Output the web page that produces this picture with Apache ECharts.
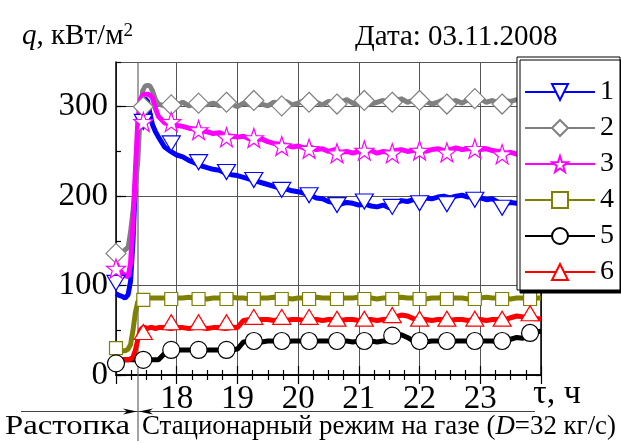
<!DOCTYPE html>
<html>
<head>
<meta charset="utf-8">
<script src="https://cdn.jsdelivr.net/npm/echarts@6/dist/echarts.min.js"></script>
<style>
  html, body { margin: 0; padding: 0; background: #fff; }
  #chart { width: 621px; height: 443px; }
</style>
</head>
<body>
<div id="chart"></div>
<script>
// время, ч
const tau = [17.0, 17.05, 17.1, 17.15, 17.2, 17.24, 17.28, 17.32, 17.36, 17.4, 17.44, 17.48, 17.52, 17.56, 17.6, 17.65,
  17.7, 17.8, 17.9, 18.0, 18.1, 18.2, 18.3, 18.4, 18.5, 18.6, 18.7, 18.8, 18.9, 19.0, 19.1, 19.2, 19.3, 19.4, 19.5, 19.6,
  19.7, 19.8, 19.9, 20.0, 20.1, 20.2, 20.3, 20.4, 20.5, 20.6, 20.7, 20.8, 20.9, 21.0, 21.1, 21.2, 21.3, 21.4, 21.5, 21.6,
  21.7, 21.8, 21.9, 22.0, 22.1, 22.2, 22.3, 22.4, 22.5, 22.6, 22.7, 22.8, 22.9, 23.0, 23.1, 23.2, 23.3, 23.4, 23.5, 23.6,
  23.7, 23.8, 23.9, 24.0];

// q, кВт/м2 для датчиков 1..6
const q1 = [91, 89, 88, 86, 90, 105, 150, 215, 262, 290, 305, 309, 306, 292, 280, 272,
  266, 255, 250, 246, 244, 240, 237, 234, 232, 230, 229, 226, 224, 223, 221, 219, 217, 215, 213, 211,
  209, 208, 206, 205, 203, 201, 198, 197, 194, 193, 191, 193, 192, 190, 191, 189, 188, 190, 187, 192,
  195, 194, 196, 197, 198, 197, 199, 200, 198, 200, 201, 199, 200, 198, 196, 197, 193, 191, 193, 192,
  194, 193, 194, 193];
const q2 = [132, 134, 137, 140, 143, 160, 184, 210, 240, 295, 318, 323, 324, 323, 318, 308,
  303, 301, 300, 302, 305, 301, 303, 306, 302, 304, 301, 305, 303, 300, 304, 302, 306, 303, 301, 305,
  303, 306, 302, 304, 307, 303, 305, 302, 306, 303, 305, 308, 304, 302, 306, 303, 305, 307, 303, 306,
  309, 305, 307, 304, 306, 303, 305, 308, 305, 307, 304, 308, 306, 309, 305, 307, 304, 307, 306, 308,
  305, 307, 305, 306];
const q3 = [125, 118, 114, 111, 110, 125, 170, 230, 285, 308, 313, 314, 314, 313, 310, 298,
  289, 282, 280, 279, 278, 276, 275, 273, 272, 270, 271, 268, 267, 266, 267, 264, 263, 264, 261, 259,
  258, 257, 255, 256, 254, 255, 252, 253, 250, 252, 249, 250, 248, 250, 249, 251, 248, 250, 249, 251,
  252, 250, 251, 252, 250, 252, 253, 251, 252, 254, 252, 253, 254, 252, 253, 251, 250, 248, 249, 247,
  248, 246, 247, 248];
const q4 = [28, 28, 27, 27, 29, 34, 50, 70, 82, 85, 86, 86, 86, 86, 86, 86,
  86, 86, 85, 86, 86, 87, 86, 86, 85, 86, 86, 86, 87, 86, 86, 85, 86, 86, 86, 87,
  86, 86, 85, 86, 86, 86, 87, 86, 86, 85, 86, 86, 86, 87, 86, 86, 85, 86, 86, 86,
  87, 86, 86, 86, 85, 86, 86, 87, 86, 86, 86, 85, 86, 86, 87, 86, 86, 86, 85, 86,
  86, 87, 86, 86];
const q5 = [17, 17, 17, 17, 17, 17, 17, 17, 17, 17, 17, 17, 17, 17, 17, 17,
  17, 24, 28, 28, 28, 28, 28, 28, 28, 28, 28, 28, 28, 29, 37, 38, 38, 37, 38, 38,
  38, 37, 38, 38, 38, 37, 38, 38, 38, 37, 38, 38, 37, 38, 38, 38, 37, 38, 38, 43,
  45, 42, 38, 38, 37, 38, 38, 38, 37, 38, 38, 38, 37, 38, 38, 38, 37, 38, 40, 42,
  41, 44, 48, 49];
const q6 = [17, 17, 17, 17, 17, 18, 20, 28, 40, 50, 53, 53, 52, 53, 53, 52,
  53, 53, 52, 53, 53, 52, 53, 53, 52, 53, 53, 52, 53, 53, 61, 62, 61, 62, 62, 61,
  62, 61, 62, 62, 61, 62, 62, 61, 62, 62, 61, 62, 62, 61, 62, 62, 61, 62, 62, 65,
  67, 66, 63, 62, 62, 61, 62, 62, 61, 62, 62, 61, 62, 62, 61, 62, 62, 62, 64, 66,
  65, 64, 63, 63];

// положение маркеров
const markTau = [17.0, 17.45, 17.91, 18.36, 18.82, 19.27, 19.73, 20.18, 20.64, 21.09, 21.55, 22.0, 22.45, 22.91, 23.36, 23.82];
const m1 = [103, 283, 259, 238, 227, 218, 207, 201, 190, 194, 188, 192, 191, 196, 187, 192];
const m2 = [136, 300, 302, 304, 305, 307, 301, 305, 303, 307, 305, 307, 303, 309, 303, 305];
const m3 = [119, 283, 283, 274, 266, 265, 256, 253, 248, 251, 248, 251, 249, 253, 247, 247];
const m4 = [30, 84, 85, 85, 85, 85, 85, 85, 85, 85, 85, 85, 85, 85, 85, 85];
const m5 = [13, 17, 28, 28, 28, 38, 38, 38, 38, 38, 44, 38, 38, 38, 38, 47];
const m6 = [null, 48, 59, 59, 59, 65, 65, 65, 63, 63, 67, 63, 63, 63, 63, 69];

const names = ['1', '2', '3', '4', '5', '6'];

const serif = 'Liberation Serif';
const star = 'path://M0,-10 L2.35,-3.24 L9.51,-3.09 L3.8,1.24 L5.88,8.09 L0,4 L-5.88,8.09 L-3.8,1.24 L-9.51,-3.09 L-2.35,-3.24 Z';

// стиль каждой кривой
const look = [
  { color: '#0000ff', symbol: 'triangle', rotate: 180, size: [18, 15] },
  { color: '#808080', symbol: 'diamond', rotate: 0, size: [20, 20] },
  { color: '#ff00ff', symbol: star, rotate: 0, size: [19, 19] },
  { color: '#808000', symbol: 'rect', rotate: 0, size: [13, 13] },
  { color: '#000000', symbol: 'circle', rotate: 0, size: [17, 17] },
  { color: '#ff0000', symbol: 'triangle', rotate: 0, size: [18, 15] }
];
const qs = [q1, q2, q3, q4, q5, q6];
const ms = [m1, m2, m3, m4, m5, m6];

const series = [];
names.forEach((n, i) => {
  const s = look[i];
  series.push({
    name: n,
    type: 'line',
    data: tau.map((t, j) => [t, qs[i][j]]),
    showSymbol: false,
    symbol: s.symbol,
    symbolRotate: s.rotate,
    symbolSize: s.size,
    lineStyle: { color: s.color, width: 5 },
    itemStyle: { color: '#fff', borderColor: s.color, borderWidth: 1.2 },
    z: 2
  });
});
names.forEach((n, i) => {
  const s = look[i];
  series.push({
    name: n,
    type: 'scatter',
    data: markTau.map((t, j) => [t, ms[i][j]]),
    symbol: s.symbol,
    symbolRotate: s.rotate,
    symbolSize: s.size,
    itemStyle: { color: '#fff', borderColor: s.color, borderWidth: 1.2, opacity: 1 },
    z: 3
  });
});

// растянутая подпись внизу
function fit(text, font, w) {
  const ctx = document.createElement('canvas').getContext('2d');
  ctx.font = font;
  return w / ctx.measureText(text).width;
}
const bottomFont = '27px "Liberation Serif"';
const k1 = fit('Растопка', bottomFont, 125);
const k2 = fit('Стационарный режим на газе (D=32 кг/с)', bottomFont, 474);

const tickLine = { color: '#000', width: 1.2 };
const txt = (size) => ({ fontFamily: serif, fontSize: size, fill: '#000', verticalAlign: 'middle' });

const chart = echarts.init(document.getElementById('chart'));
chart.setOption({
  animation: false,
  grid: { left: 116, right: 80, top: 62, bottom: 68, outerBoundsMode: 'none' },
  xAxis: [{
    type: 'value', min: 17, max: 24, interval: 1,
    axisLine: { lineStyle: { color: '#000', width: 1.5 } },
    axisTick: { inside: true, length: 9, lineStyle: tickLine },
    minorTick: { show: true, splitNumber: 4, length: 5, lineStyle: tickLine },
    axisLabel: { showMinLabel: false, showMaxLabel: false, fontFamily: serif, fontSize: 33, color: '#000', margin: 8 },
    splitLine: { show: true, lineStyle: { color: '#555', width: 1 } }
  }, {
    type: 'value', position: 'top', min: 17, max: 24, interval: 1,
    axisLine: { lineStyle: { color: '#000', width: 1.5 } },
    axisTick: { inside: true, length: 9, lineStyle: tickLine },
    minorTick: { show: true, splitNumber: 4, length: 5, lineStyle: tickLine },
    axisLabel: { show: false },
    splitLine: { show: false }
  }],
  yAxis: [{
    type: 'value', min: 0, max: 350, interval: 100,
    axisLine: { show: true, lineStyle: { color: '#000', width: 1.5 } },
    axisTick: { show: true, inside: true, length: 10, lineStyle: tickLine },
    axisLabel: { showMaxLabel: false, fontFamily: serif, fontSize: 33, color: '#000', margin: 8 },
    splitLine: { show: true, lineStyle: { color: '#555', width: 1 } }
  }, {
    type: 'value', position: 'left', min: 0, max: 350, interval: 50,
    axisLine: { show: false },
    axisTick: { show: true, inside: true, length: 5, lineStyle: tickLine },
    axisLabel: { show: false },
    splitLine: { show: false }
  }, {
    type: 'value', position: 'right', min: 0, max: 350, interval: 50,
    axisLine: { show: true, lineStyle: { color: '#000', width: 1.5 } },
    axisTick: { show: true, inside: true, length: 5, lineStyle: tickLine },
    axisLabel: { show: false },
    splitLine: { show: false }
  }],
  legend: {
    data: names,
    orient: 'vertical',
    left: 517, top: 57,
    padding: [21, 6, 4, 7],
    itemWidth: 70, itemHeight: 20, itemGap: 8,
    backgroundColor: '#fff',
    borderColor: '#000', borderWidth: 1,
    shadowColor: '#000', shadowBlur: 0, shadowOffsetX: 3, shadowOffsetY: 3,
    textStyle: { fontFamily: serif, fontSize: 28, lineHeight: 28, color: '#000' }
  },
  graphic: [
    {
      type: 'text', x: 22, y: 36,
      style: Object.assign(txt(29), {
        text: '{i|q}, кВт/м{s|2}',
        rich: {
          i: { fontFamily: serif, fontSize: 29, fontStyle: 'italic' },
          s: { fontFamily: serif, fontSize: 19, verticalAlign: 'top' }
        }
      })
    },
    { type: 'text', x: 355, y: 37, style: Object.assign(txt(29), { text: 'Дата: 03.11.2008' }) },
    { type: 'text', x: 533, y: 394, style: Object.assign(txt(34), { text: 'τ, ч' }) },
    // граница растопки, под кривыми
    { type: 'line', z: 1, shape: { x1: 138, y1: 62, x2: 138, y2: 441 }, style: { stroke: '#666', lineWidth: 1.2 } },
    { type: 'line', shape: { x1: 21, y1: 411.5, x2: 535, y2: 411.5 }, style: { stroke: '#444', lineWidth: 1.2 } },
    { type: 'polygon', shape: { points: [[123, 408.5], [137, 411.5], [123, 414.5], [127, 411.5]] }, style: { fill: '#000' } },
    { type: 'polygon', shape: { points: [[153, 408.5], [139, 411.5], [153, 414.5], [149, 411.5]] }, style: { fill: '#000' } },
    { type: 'text', x: 5, y: 427, scaleX: k1, style: Object.assign(txt(27), { text: 'Растопка' }) },
    {
      type: 'text', x: 142, y: 427, scaleX: k2,
      style: Object.assign(txt(27), {
        text: 'Стационарный режим на газе ({d|D}=32 кг/с)',
        rich: { d: { fontFamily: serif, fontSize: 27, fontStyle: 'italic' } }
      })
    }
  ],
  series: series
});
</script>
</body>
</html>
